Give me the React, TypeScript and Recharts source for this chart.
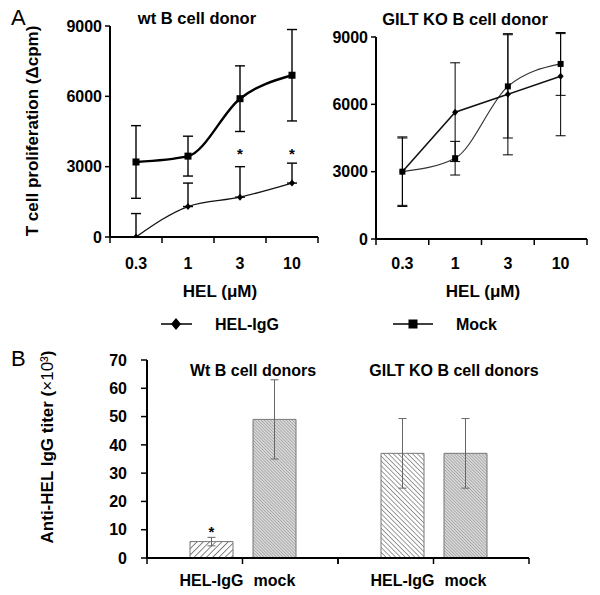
import React from 'react';
import { LineChart, Line, XAxis, YAxis, ErrorBar, BarChart, Bar, Cell, LabelList } from 'recharts';

const FONT = '"Liberation Sans", Arial, Helvetica, sans-serif';

// panel A: T cell proliferation
const doses = ['0.3', '1', '3', '10'];
const yTicksA = [0, 3000, 6000, 9000];
const legendNames = ['HEL-IgG', 'Mock'];

const wtMock = [3200, 3450, 5900, 6900];
const wtMockErr = [1550, 850, 1400, 1950];
const wtHel = [0, 1300, 1700, 2300];
const wtHelErrUp = [1000, 1000, 1300, 850];
const wtStarAt = [null, null, 3550, 3550];

const koMock = [3000, 3600, 6800, 7800];
const koMockErr = [1550, 750, 2300, 1400];
const koHel = [3000, 5650, 6450, 7250];
const koHelErrLow = [1500, 2200, 2700, 2650];
const koHelErrHigh = [1500, 2200, 2700, 1900];

// panel B: anti-HEL IgG titer
const groups = ['Wt B cell donors', 'GILT KO B cell donors'];
const seriesB = ['HEL-IgG', 'mock'];
const titerHel = [5.8, 37];
const titerHelErr = [1.5, 12.3];
const titerMock = [49, 37];
const titerMockErr = [14, 12.3];
const titerSig = [true, false];
const yTicksB = [0, 10, 20, 30, 40, 50, 60, 70];

const wtData = doses.map((d, i) => ({
  x: i, dose: d, mock: wtMock[i], mockErr: wtMockErr[i],
  hel: wtHel[i], helErr: [0, wtHelErrUp[i]], star: wtStarAt[i],
}));
const koData = doses.map((d, i) => ({
  x: i, dose: d, mock: koMock[i], mockErr: koMockErr[i],
  hel: koHel[i], helErr: [koHelErrLow[i], koHelErrHigh[i]],
}));
const titerData = groups.map((g, i) => ({
  group: g, hel: titerHel[i], helErr: titerHelErr[i],
  mock: titerMock[i], mockErr: titerMockErr[i], sig: titerSig[i],
}));

const bold = { fontFamily: FONT, fontWeight: 'bold', fill: '#000' };

const bad = (p: any) => p.cx == null || p.cy == null || isNaN(p.cx) || isNaN(p.cy);

const squareDot = (s: number) => (p: any) =>
  bad(p) ? <g key={p.index} /> : <rect key={p.index} x={p.cx - s / 2} y={p.cy - s / 2} width={s} height={s} fill="#000" />;

const diamondDot = (w: number, h: number) => (p: any) =>
  bad(p) ? <g key={p.index} /> : (
    <polygon key={p.index} fill="#000"
      points={`${p.cx},${p.cy - h / 2} ${p.cx + w / 2},${p.cy} ${p.cx},${p.cy + h / 2} ${p.cx - w / 2},${p.cy}`} />
  );

const starDot = (p: any) =>
  bad(p) || p.value == null ? <g key={p.index} /> : (
    <text key={p.index} x={p.cx} y={p.cy} textAnchor="middle" dominantBaseline="central" fontSize={15} {...bold}>*</text>
  );

const doseTick = (dy: number) => (p: any) => {
  const v = p.payload.value;
  if (Number.isInteger(v)) {
    return (
      <text x={p.x} y={p.y + dy} textAnchor="middle" dominantBaseline="central" fontSize={16} {...bold}>
        {doses[v]}
      </text>
    );
  }
  return <line x1={p.x} x2={p.x} y1={p.y} y2={p.y + 6} stroke="#000" strokeWidth={1.5} />;
};

// tick marks at band edges and band centre, no text (bar names are drawn under each bar)
const bandTick = (p: any) => {
  const half = p.payload.offset || 0;
  return (
    <g>
      {[-half, 0, half].map((d) => (
        <line key={d} x1={p.x + d} x2={p.x + d} y1={p.y} y2={p.y + 6} stroke="#000" strokeWidth={1.5} />
      ))}
    </g>
  );
};

const xTicksA = [-0.5, 0, 0.5, 1, 1.5, 2, 2.5, 3, 3.5];

function ProlifChart({ data, width, height, margin, yWidth, xHeight, tickDy, thick, helLinear }: any) {
  return (
    <LineChart width={width} height={height} data={data} margin={margin}>
      <XAxis dataKey="x" type="number" domain={[-0.5, 3.5]} ticks={xTicksA} interval={0} allowDataOverflow
        height={xHeight} tickSize={0} tickMargin={0} tickLine={false} tick={doseTick(tickDy)}
        axisLine={{ stroke: '#000', strokeWidth: 2 }} />
      <YAxis domain={[0, 9000]} ticks={yTicksA} interval={0} allowDataOverflow width={yWidth}
        tickSize={5} tickMargin={3} axisLine={{ stroke: '#000', strokeWidth: 2 }}
        tickLine={{ stroke: '#000', strokeWidth: 1.5 }} tick={{ fontSize: 16, ...bold }} />
      <Line dataKey="mock" type="monotone" stroke={thick ? '#000' : '#333'} strokeWidth={thick ? 2.4 : 1.2}
        dot={squareDot(thick ? 7 : 6)} isAnimationActive={false}>
        <ErrorBar dataKey="mockErr" direction="y" width={5} stroke="#000" strokeWidth={thick ? 1.4 : 1} />
      </Line>
      <Line dataKey="hel" type={helLinear ? 'linear' : 'monotone'} stroke="#111" strokeWidth={thick ? 1.3 : 1.5}
        dot={diamondDot(6, 7)} isAnimationActive={false}>
        <ErrorBar dataKey="helErr" direction="y" width={5} stroke="#000" strokeWidth={thick ? 1.4 : 1} />
      </Line>
      {thick && (
        <Line dataKey="star" stroke="none" dot={starDot} isAnimationActive={false} />
      )}
    </LineChart>
  );
}

const barName = (name: string) => (p: any) => {
  const vb = p.viewBox || p;
  if (vb.x == null) return null;
  return (
    <text x={vb.x + vb.width / 2} y={vb.y + vb.height + 22} textAnchor="middle" dominantBaseline="central" fontSize={16} {...bold}>
      {name}
    </text>
  );
};

const sigLabel = (p: any) => {
  const vb = p.viewBox || p;
  if (vb.x == null || !titerData[p.index]?.sig) return null;
  return (
    <text x={vb.x + vb.width / 2} y={vb.y - 10} textAnchor="middle" dominantBaseline="central" fontSize={15} {...bold}>*</text>
  );
};

const helFills = ['url(#hatchWide)', 'url(#hatchBack)'];

export default function App() {
  return (
    <div style={{ position: 'absolute', left: 0, top: 0, width: 600, height: 595, background: '#fff', fontFamily: FONT }}>
      <div style={{ position: 'absolute', left: 0, top: 0 }}>
        <ProlifChart data={wtData} width={330} height={300} margin={{ top: 26, right: 12, bottom: 0, left: 0 }}
          yWidth={110} xHeight={63} tickDy={26} thick />
      </div>
      <div style={{ position: 'absolute', left: 300, top: 0 }}>
        <ProlifChart data={koData} width={300} height={300} margin={{ top: 37, right: 13, bottom: 0, left: 0 }}
          yWidth={76} xHeight={61} tickDy={24} helLinear />
      </div>
      <div style={{ position: 'absolute', left: 0, top: 340 }}>
        <BarChart width={600} height={255} data={titerData} margin={{ top: 20, right: 71, bottom: 0, left: 0 }}
          barSize={43} barGap={20}>
          <defs>
            <pattern id="hatchWide" width="4.4" height="4.4" patternUnits="userSpaceOnUse" patternTransform="rotate(45)">
              <rect width="4.4" height="4.4" fill="#fff" />
              <line x1="0" y1="0" x2="0" y2="4.4" stroke="#777" strokeWidth="1.8" />
            </pattern>
            <pattern id="hatchBack" width="3.4" height="3.4" patternUnits="userSpaceOnUse" patternTransform="rotate(-45)">
              <rect width="3.4" height="3.4" fill="#fff" />
              <line x1="0" y1="0" x2="0" y2="3.4" stroke="#666" strokeWidth="1.3" />
            </pattern>
            <pattern id="hatchFine" width="2.2" height="2.2" patternUnits="userSpaceOnUse" patternTransform="rotate(-45)">
              <rect width="2.2" height="2.2" fill="#d8d8d8" />
              <line x1="0" y1="0" x2="0" y2="2.2" stroke="#888" strokeWidth="1" />
            </pattern>
          </defs>
          <XAxis dataKey="group" height={37} interval={0} tickSize={0} tickMargin={0} tickLine={false}
            tick={bandTick} axisLine={{ stroke: '#000', strokeWidth: 2 }} />
          <YAxis domain={[0, 70]} ticks={yTicksB} interval={0} width={147} tickSize={6} tickMargin={14}
            axisLine={{ stroke: '#000', strokeWidth: 2 }} tickLine={{ stroke: '#000', strokeWidth: 1.5 }}
            tick={{ fontSize: 16, ...bold }} />
          <Bar dataKey="hel" stroke="#777" strokeWidth={1} isAnimationActive={false}>
            {titerData.map((d, i) => <Cell key={d.group} fill={helFills[i]} />)}
            <ErrorBar dataKey="helErr" direction="y" width={4} stroke="#666" strokeWidth={1} />
            <LabelList dataKey="hel" content={barName(seriesB[0])} />
            <LabelList dataKey="hel" content={sigLabel} />
          </Bar>
          <Bar dataKey="mock" fill="url(#hatchFine)" stroke="#777" strokeWidth={1} isAnimationActive={false}>
            <ErrorBar dataKey="mockErr" direction="y" width={4} stroke="#666" strokeWidth={1} />
            <LabelList dataKey="mock" content={barName(seriesB[1])} />
          </Bar>
        </BarChart>
      </div>

      <svg width={600} height={595} style={{ position: 'absolute', left: 0, top: 0, pointerEvents: 'none' }}>
        <text x={11} y={17} dominantBaseline="central" fontSize={22} fontFamily={FONT}>A</text>
        <text x={197} y={18} textAnchor="middle" dominantBaseline="central" fontSize={16.5} {...bold}>wt B cell donor</text>
        <text x={465} y={19} textAnchor="middle" dominantBaseline="central" fontSize={16.5} {...bold}>GILT KO B cell donor</text>
        <text transform="translate(32,131) rotate(-90)" textAnchor="middle" dominantBaseline="central" fontSize={17} {...bold}>
          T cell proliferation (Δcpm)
        </text>
        <text x={220} y={291} textAnchor="middle" dominantBaseline="central" fontSize={17} {...bold}>HEL (μM)</text>
        <text x={483} y={291} textAnchor="middle" dominantBaseline="central" fontSize={17} {...bold}>HEL (μM)</text>

        <line x1={161} x2={192} y1={324} y2={324} stroke="#000" strokeWidth={1.5} />
        <polygon points="176,318 181,324 176,330 171,324" fill="#000" />
        <text x={215} y={324} dominantBaseline="central" fontSize={16} {...bold}>{legendNames[0]}</text>
        <line x1={393} x2={433} y1={324} y2={324} stroke="#000" strokeWidth={1.5} />
        <rect x={408.5} y={319.5} width={9} height={9} fill="#000" />
        <text x={456} y={324} dominantBaseline="central" fontSize={16} {...bold}>{legendNames[1]}</text>

        <text x={11} y={358} dominantBaseline="central" fontSize={22} fontFamily={FONT}>B</text>
        <text transform="translate(47,447) rotate(-90)" textAnchor="middle" dominantBaseline="central" fontSize={17} {...bold}>
          Anti-HEL IgG titer (<tspan fontWeight="normal">×10³</tspan>)
        </text>
        <text x={253} y={370} textAnchor="middle" dominantBaseline="central" fontSize={16} {...bold}>{groups[0]}</text>
        <text x={454} y={370} textAnchor="middle" dominantBaseline="central" fontSize={16} {...bold}>{groups[1]}</text>
      </svg>
    </div>
  );
}
